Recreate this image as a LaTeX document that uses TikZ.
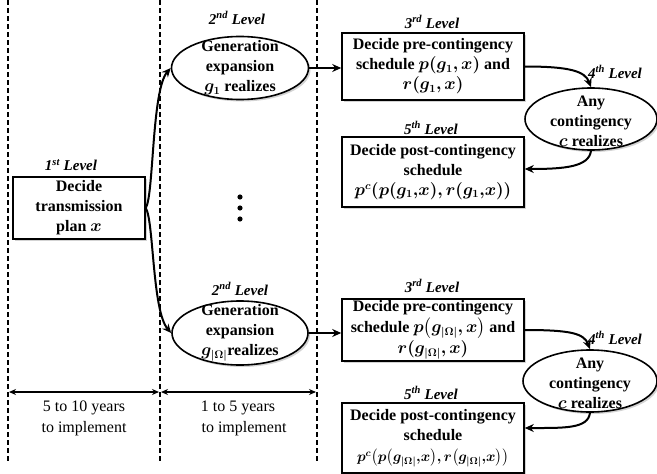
\documentclass[tikz,border=0pt]{standalone}
\usepackage{amsmath}
\usepackage{bm}
\usepackage{fontspec}
\setmainfont{Liberation Serif}
\usetikzlibrary{shapes.geometric,shadows,arrows.meta}
\begin{document}
\begin{tikzpicture}[x=1pt,y=-1pt,
  txt/.style={font=\fontsize{16}{20}\selectfont\bfseries, align=center, inner sep=0pt},
  lvl/.style={font=\fontsize{15}{18}\selectfont\bfseries\itshape, inner sep=0pt},
  plain/.style={font=\fontsize{16}{21}\selectfont, align=center, inner sep=0pt},
  shad/.style={drop shadow={opacity=0.35, shadow xshift=2pt, shadow yshift=-2pt}},
  boxnode/.style={draw, line width=1.6pt, fill=white, shad, rectangle, inner sep=0pt,
    minimum width=182pt, align=center, font=\fontsize{16}{20}\selectfont\bfseries},
  ell/.style={draw, ellipse, line width=1.6pt, fill=white, shad, inner sep=0pt},
  conn/.style={-{Stealth[length=9pt,width=8pt]}, line width=2pt},
  divider/.style={line width=1.2pt, dash pattern=on 5pt off 3pt},
  span/.style={{Stealth[length=7pt,width=6pt]}-{Stealth[length=7pt,width=6pt]}, line width=1.4pt}]
\path[use as bounding box] (0,0) rectangle (657,474);

% dividers
\coordinate (d1t) at (8,0);   \coordinate (d1b) at (8,462);
\coordinate (d2t) at (160,0); \coordinate (d2b) at (160,462);
\coordinate (d3t) at (317,0); \coordinate (d3b) at (317,462);
\draw[divider] (d1t) -- (d1b);
\draw[divider] (d2t) -- (d2b);
\draw[divider] (d3t) -- (d3b);

% time spans
\coordinate (s1a) at (9,392);   \coordinate (s1b) at (159,392);
\coordinate (s2a) at (161,392); \coordinate (s2b) at (316,392);
\draw[span] (s1a) -- (s1b);
\draw[span] (s2a) -- (s2b);
\node[plain] (t1) at (84,418) {5 to 10 years\\to implement};
\node[plain] (t2) at (238,418) {1 to 5 years\\\hspace*{12pt}to implement};

% level 1
\node[lvl] (l1) at (71,165) {1\textsuperscript{st} Level};
\node[boxnode, minimum width=132pt, minimum height=62pt] (b1) at (79,208) {Decide\\transmission\\plan $\bm{x}$};

% level 2
\node[lvl] (l2a) at (237,18) {2\textsuperscript{nd} Level};
\node[ell, minimum width=137pt, minimum height=63pt] (e2a) at (240,68) {};
\node[txt] (e2at) at (240,68) {Generation\\expansion\\$\bm{g_1}$ realizes};

\node[lvl] (l2b) at (240,289) {2\textsuperscript{nd} Level};
\node[ell, minimum width=136pt, minimum height=64pt] (e2b) at (240,333) {};
\node[txt] (e2bt) at (240,333) {Generation\\expansion\\$\bm{g_{|\Omega|}}$realizes};

% dots
\fill (240,197) circle (2.6);
\fill (240,208) circle (2.6);
\fill (240,219) circle (2.6);

% level 3 / 4 / 5, top
\node[lvl] (l3a) at (432,22) {3\textsuperscript{rd} Level};
\node[boxnode, minimum height=67pt] (b3a) at (433,66.5) {Decide pre-contingency\\schedule $\bm{p(g_1,x)}$ and\\$\bm{r(g_1,x)}$};
\node[lvl] (l4a) at (615,72) {4\textsuperscript{th} Level};
\node[ell, minimum width=132pt, minimum height=62pt] (e4a) at (591,119) {};
\node[txt] (e4at) at (591,121) {Any\\contingency\\$\bm{c}$ realizes};
\node[lvl] (l5a) at (431,128) {5\textsuperscript{th} Level};
\node[boxnode, minimum height=70pt] (b5a) at (433,172) {Decide post-contingency\\schedule\\$\bm{p^c(p(g_1{,}x){,}\,r(g_1{,}x))}$};

% level 3 / 4 / 5, bottom
\node[lvl] (l3b) at (432,286) {3\textsuperscript{rd} Level};
\node[boxnode, minimum height=62pt] (b3b) at (433,330) {Decide pre-contingency\\[1pt]schedule $\bm{p\big(g_{|\Omega|},x\big)}$ and\\[1pt]$\bm{r(g_{|\Omega|},x)}$};
\node[lvl] (l4b) at (615,338) {4\textsuperscript{th} Level};
\node[ell, minimum width=134pt, minimum height=62pt] (e4b) at (590,381) {};
\node[txt] (e4bt) at (590,383) {Any\\contingency\\$\bm{c}$ realizes};
\node[lvl] (l5b) at (431,393) {5\textsuperscript{th} Level};
\node[boxnode, minimum height=70pt] (b5b) at (433,438) {Decide post-contingency\\schedule\\[1pt]{\fontsize{14.5}{20}\selectfont$\bm{p^c\big(p\big(g_{|\Omega|}{,}x\big){,}\,r\big(g_{|\Omega|}{,}x\big)\big)}$}};

% connectors
\draw[conn] (b1.east) .. controls +(8,-13) and +(-19,22) .. (e2a.west);
\draw[conn] (b1.east) .. controls +(8,13) and +(-19,-22) .. (e2b.west);
\draw[conn] (e2a.east) -- (e2a.east -| b3a.west);
\draw[conn] (e2b.east) -- (e2b.east -| b3b.west);
\draw[conn] (b3a.east) .. controls +(45,0) and +(-6,-16) .. (e4a.north);
\draw[conn] (e4a.south) .. controls +(-2,16) and +(40,0) .. ([yshift=3pt]b5a.east);
\draw[conn] (b3b.east) .. controls +(45,0) and +(-6,-16) .. (e4b.north);
\draw[conn] (e4b.south) .. controls +(-2,16) and +(40,0) .. ([yshift=10pt]b5b.east);
\end{tikzpicture}
\end{document}
